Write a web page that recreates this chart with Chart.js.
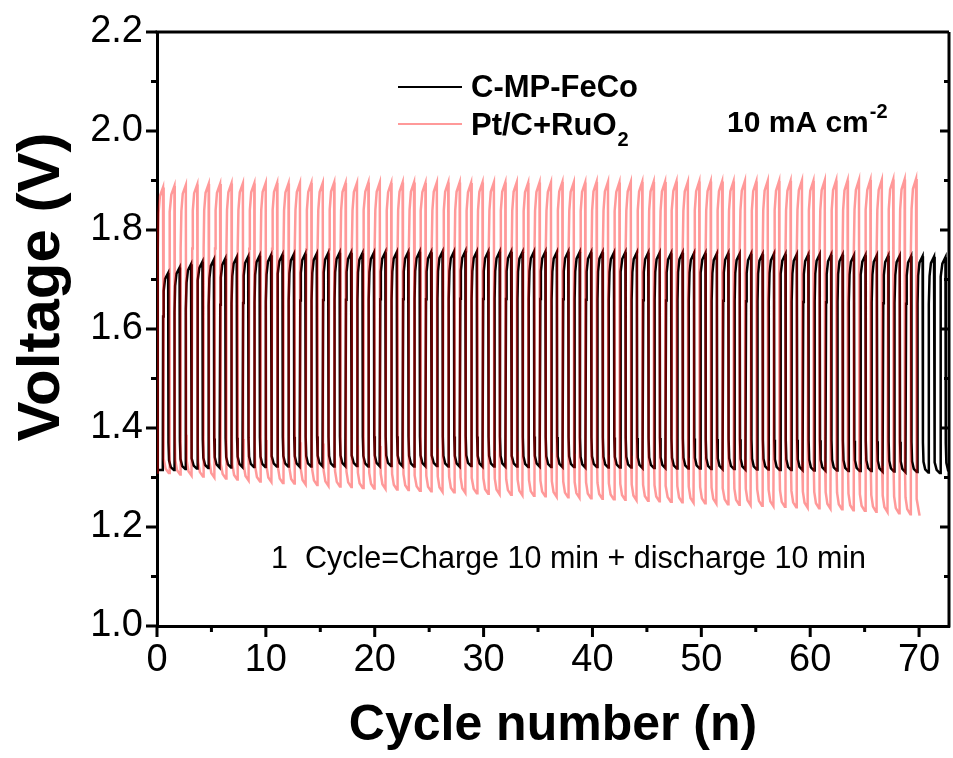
<!DOCTYPE html>
<html>
<head>
<meta charset="utf-8">
<script src="https://cdn.jsdelivr.net/npm/chart.js@4.4.0/dist/chart.umd.min.js"></script>
<style>
  body { margin: 0; background: #fff; }
  canvas { display: block; }
</style>
</head>
<body>
<canvas id="myChart" width="953" height="758"></canvas>
<script>
const seriesNames = ['C-MP-FeCo', 'Pt/C+RuO2'];
const xTicks = [0, 10, 20, 30, 40, 50, 60, 70];
const yTicks = [1.0, 1.2, 1.4, 1.6, 1.8, 2.0, 2.2];

// cycle timing (x axis units)
const fecoStart = 0.53, fecoPeriod = 1.050, fecoEnd = 73.0, fecoFirstLow = 1.315;
const ptStart = 0.06, ptPeriod = 1.048, ptEnd = 70.05, ptFirstLow = 1.31;

// end-of-charge voltage for each cycle (V)
const fecoCharge = [
  1.713, 1.724, 1.731, 1.736, 1.740, 1.742, 1.745, 1.746, 1.748, 1.749,
  1.750, 1.751, 1.752, 1.752, 1.753, 1.754, 1.754, 1.753, 1.754, 1.755,
  1.755, 1.755, 1.756, 1.755, 1.756, 1.756, 1.757, 1.756, 1.756, 1.756,
  1.756, 1.755, 1.756, 1.756, 1.755, 1.756, 1.755, 1.755, 1.755, 1.754,
  1.755, 1.754, 1.754, 1.754, 1.753, 1.754, 1.753, 1.753, 1.752, 1.753,
  1.752, 1.752, 1.751, 1.752, 1.751, 1.751, 1.750, 1.751, 1.750, 1.750,
  1.749, 1.749, 1.749, 1.748, 1.748, 1.747, 1.747, 1.746, 1.745
];
// end-of-discharge voltage for each cycle (V)
const fecoDischarge = [
  1.315, 1.317, 1.318, 1.319, 1.320, 1.320, 1.321, 1.321, 1.321, 1.322,
  1.322, 1.322, 1.322, 1.323, 1.322, 1.323, 1.323, 1.322, 1.323, 1.323,
  1.323, 1.322, 1.323, 1.323, 1.322, 1.322, 1.323, 1.322, 1.322, 1.322,
  1.322, 1.321, 1.322, 1.321, 1.321, 1.321, 1.320, 1.321, 1.320, 1.320,
  1.320, 1.319, 1.319, 1.319, 1.318, 1.318, 1.318, 1.317, 1.317, 1.317,
  1.316, 1.316, 1.316, 1.315, 1.315, 1.315, 1.314, 1.314, 1.314, 1.313,
  1.313, 1.313, 1.312, 1.312, 1.311, 1.311, 1.310, 1.309, 1.308
];
const ptCharge = [
  1.886, 1.889, 1.891, 1.892, 1.893, 1.893, 1.894, 1.894, 1.894, 1.895,
  1.895, 1.894, 1.895, 1.895, 1.895, 1.896, 1.895, 1.895, 1.896, 1.896,
  1.895, 1.896, 1.896, 1.895, 1.896, 1.896, 1.896, 1.895, 1.896, 1.896,
  1.896, 1.896, 1.895, 1.896, 1.896, 1.897, 1.896, 1.896, 1.897, 1.897,
  1.896, 1.897, 1.897, 1.897, 1.897, 1.898, 1.897, 1.898, 1.898, 1.898,
  1.898, 1.899, 1.898, 1.899, 1.899, 1.899, 1.900, 1.899, 1.900, 1.900,
  1.900, 1.901, 1.901, 1.901, 1.902, 1.902, 1.903
];
const ptDischarge = [
  1.309, 1.306, 1.304, 1.302, 1.300, 1.298, 1.296, 1.294, 1.292, 1.291,
  1.289, 1.288, 1.286, 1.285, 1.283, 1.282, 1.281, 1.279, 1.278, 1.277,
  1.276, 1.275, 1.273, 1.272, 1.271, 1.270, 1.269, 1.268, 1.267, 1.266,
  1.265, 1.264, 1.263, 1.262, 1.261, 1.260, 1.259, 1.258, 1.257, 1.256,
  1.255, 1.254, 1.253, 1.252, 1.251, 1.250, 1.249, 1.248, 1.247, 1.246,
  1.245, 1.244, 1.243, 1.242, 1.241, 1.240, 1.239, 1.238, 1.237, 1.236,
  1.234, 1.233, 1.231, 1.230, 1.228, 1.226, 1.223
];

// shape of one charge/discharge cycle: [fraction of period, fraction of the voltage step]
const chargeShape = [[0, 0], [0.03, 0.78], [0.08, 0.91], [0.2, 0.97], [0.47, 1]];
const dischargeShape = [[0.5, 0.14], [0.55, 0.05], [0.7, 0.015], [0.97, 0]];

function buildTrace(start, period, firstLow, highs, lows, end) {
  const pts = [{x: 0, y: firstLow}];
  let prevLow = firstLow;
  highs.forEach((hi, i) => {
    const t0 = start + i * period;
    const lo = lows[i];
    chargeShape.forEach(([f, w]) => pts.push({x: t0 + f * period, y: prevLow + w * (hi - prevLow)}));
    dischargeShape.forEach(([f, w]) => pts.push({x: t0 + f * period, y: lo + w * (hi - lo)}));
    prevLow = lo;
  });
  const out = pts.filter(p => p.x <= end);
  out.push({x: end, y: prevLow});
  return out;
}

const fecoData = buildTrace(fecoStart, fecoPeriod, fecoFirstLow, fecoCharge, fecoDischarge, fecoEnd);
const ptData = buildTrace(ptStart, ptPeriod, ptFirstLow, ptCharge, ptDischarge, ptEnd);

const fontFamily = "'Liberation Sans', Arial, Helvetica, sans-serif";

// frame, tick marks and text annotations
const decorPlugin = {
  id: 'decor',
  afterDraw(chart) {
    const ctx = chart.ctx;
    const a = chart.chartArea;
    const xs = chart.scales.x, ys = chart.scales.y;
    ctx.save();
    ctx.strokeStyle = '#000';
    ctx.lineWidth = 3;
    ctx.beginPath();
    ctx.moveTo(a.left - 1.5, a.top); ctx.lineTo(a.right, a.top);
    ctx.moveTo(a.right, a.top); ctx.lineTo(a.right, a.bottom + 1.5);
    ctx.stroke();

    ctx.beginPath();
    xs.ticks.forEach(t => {
      const px = xs.getPixelForValue(t.value);
      const len = xTicks.includes(t.value) ? 11 : 6;
      ctx.moveTo(px, a.bottom); ctx.lineTo(px, a.bottom + len);
    });
    ys.ticks.forEach(t => {
      const py = ys.getPixelForValue(t.value);
      const major = Math.round(t.value * 10) % 2 === 0;
      ctx.moveTo(a.left, py); ctx.lineTo(a.left - (major ? 11 : 6), py);
      if (t.value > ys.min && t.value < ys.max) {
        ctx.moveTo(a.right, py); ctx.lineTo(a.right - (major ? 9 : 5), py);
      }
    });
    ctx.stroke();

    // y axis title (sits above the axis centre in the original)
    ctx.save();
    ctx.translate(59, 287);
    ctx.rotate(-Math.PI / 2);
    ctx.fillStyle = '#000';
    ctx.font = 'bold 60px ' + fontFamily;
    ctx.textAlign = 'center';
    ctx.textBaseline = 'alphabetic';
    ctx.fillText('Voltage (V)', 0, 0);
    ctx.restore();

    // legend
    const ds = chart.data.datasets;
    const rows = [{d: ds[1], y: 87}, {d: ds[0], y: 124}];
    ctx.textBaseline = 'middle';
    ctx.textAlign = 'left';
    rows.forEach(r => {
      ctx.strokeStyle = r.d.borderColor;
      ctx.lineWidth = 2;
      ctx.beginPath();
      ctx.moveTo(398, r.y); ctx.lineTo(462, r.y);
      ctx.stroke();
    });
    ctx.fillStyle = '#000';
    ctx.font = 'bold 31px ' + fontFamily;
    ctx.fillText(seriesNames[0], 471, 88);
    const base = 'Pt/C+RuO';
    ctx.fillText(base, 471, 126);
    let w = ctx.measureText(base).width;
    ctx.font = 'bold 20px ' + fontFamily;
    ctx.fillText('2', 471 + w + 1, 140);

    ctx.font = 'bold 30px ' + fontFamily;
    const cur = '10 mA cm';
    ctx.fillText(cur, 727, 124);
    w = ctx.measureText(cur).width;
    ctx.font = 'bold 20px ' + fontFamily;
    ctx.fillText('-2', 727 + w + 1, 112);

    ctx.font = '30.5px ' + fontFamily;
    ctx.fillText('1  Cycle=Charge 10 min + discharge 10 min', 271, 560);
    ctx.restore();
  }
};

const config = {
  type: 'line',
  data: {
    datasets: [
      {
        label: 'Pt/C+RuO2',
        data: ptData,
        borderColor: 'rgba(255, 0, 0, 0.4)',
        borderWidth: 2.5,
        pointRadius: 0,
        order: 1
      },
      {
        label: 'C-MP-FeCo',
        data: fecoData,
        borderColor: '#000000',
        borderWidth: 2.5,
        pointRadius: 0,
        order: 2
      }
    ]
  },
  options: {
    responsive: false,
    animation: false,
    layout: { padding: { top: 32, right: 4 } },
    plugins: { legend: { display: false }, tooltip: { enabled: false } },
    scales: {
      x: {
        type: 'linear',
        min: 0,
        max: 72.75,
        afterFit(s) { s.height = 132; s.paddingLeft = 0; s.paddingRight = 0; },
        ticks: {
          stepSize: 5,
          includeBounds: false,
          autoSkip: false,
          maxRotation: 0,
          padding: 12,
          color: '#000',
          font: { family: fontFamily, size: 38 },
          callback: v => xTicks.includes(v) ? String(v) : ''
        },
        grid: { drawOnChartArea: false, drawTicks: false },
        border: { color: '#000', width: 3 },
        title: {
          display: true,
          text: 'Cycle number (n)',
          color: '#000',
          font: { family: fontFamily, size: 50, weight: 'bold' },
          padding: { bottom: 2 }
        }
      },
      y: {
        min: 1.0,
        max: 2.2,
        afterFit(s) { s.width = 157; s.paddingTop = 0; s.paddingBottom = 0; },
        ticks: {
          stepSize: 0.1,
          autoSkip: false,
          padding: 14,
          color: '#000',
          font: { family: fontFamily, size: 38 },
          callback: v => yTicks.some(t => Math.abs(t - v) < 1e-6) ? v.toFixed(1) : ''
        },
        grid: { drawOnChartArea: false, drawTicks: false },
        border: { color: '#000', width: 3 }
      }
    }
  },
  plugins: [decorPlugin]
};

const myChart = new Chart(document.getElementById('myChart'), config);
</script>
</body>
</html>
